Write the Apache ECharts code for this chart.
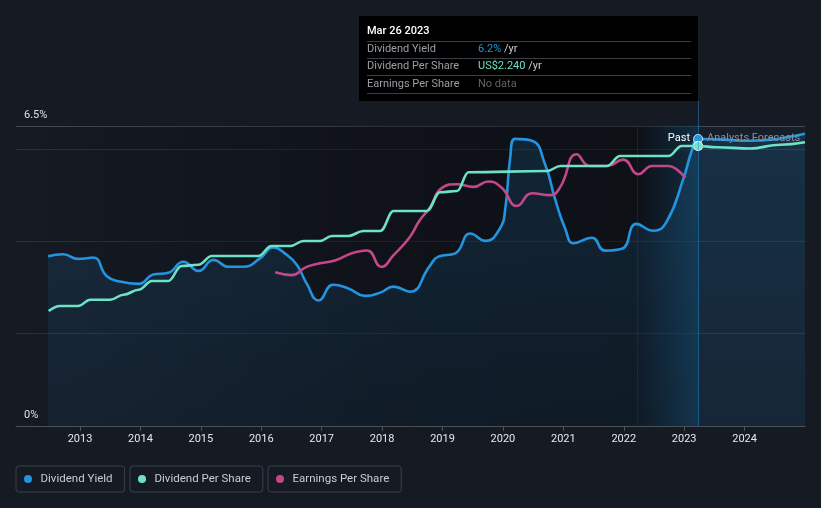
<!DOCTYPE html>
<html>
<head>
<meta charset="utf-8">
<script src="https://cdn.jsdelivr.net/npm/echarts@6/dist/echarts.min.js"></script>
<style>
html,body{margin:0;padding:0;background:#151a23;}
#c{width:821px;height:508px;}
</style>
</head>
<body>
<div id="c"></div>
<script>
// ---------- data (years as decimal years) ----------
const yieldDates = [2012.47,2012.72,2012.97,2013.22,2013.44,2013.66,2013.97,2014.21,2014.46,2014.71,2014.96,2015.21,2015.46,2015.70,2015.98,2016.20,2016.39,2016.59,2016.75,2016.95,2017.19,2017.44,2017.72,2017.97,2018.19,2018.46,2018.79,2018.93,2019.21,2019.46,2019.71,2019.95,2020.04,2020.12,2020.20,2020.48,2020.70,2020.86,2021.03,2021.17,2021.47,2021.69,2021.97,2022.21,2022.49,2022.71,2022.99,2023.13,2023.23,2023.54,2024.09,2024.53,2025.00];
const yieldValues = [3.68,3.72,3.62,3.65,3.25,3.13,3.08,3.28,3.32,3.56,3.36,3.60,3.45,3.45,3.63,3.87,3.74,3.49,3.09,2.72,3.06,2.98,2.82,2.89,3.02,2.91,3.47,3.67,3.74,4.17,4.01,4.28,4.72,5.81,6.22,6.18,5.66,4.93,4.28,3.96,4.08,3.80,3.84,4.38,4.23,4.43,5.37,5.98,6.22,6.21,6.18,6.22,6.33];

const dpsDates = [2012.48,2012.67,2012.97,2013.17,2013.50,2013.72,2013.97,2014.19,2014.46,2014.68,2014.96,2015.18,2015.95,2016.17,2016.48,2016.70,2016.97,2017.17,2017.44,2017.69,2017.97,2018.19,2018.74,2018.96,2019.24,2019.43,2020.73,2020.95,2021.72,2021.94,2022.74,2022.96,2023.23,2023.54,2024.09,2024.59,2025.00];
const dpsValues = [0.92,0.96,0.96,1.01,1.01,1.05,1.09,1.16,1.16,1.28,1.29,1.36,1.36,1.44,1.44,1.48,1.48,1.52,1.52,1.56,1.56,1.72,1.72,1.87,1.88,2.03,2.04,2.08,2.08,2.16,2.16,2.24,2.24,2.23,2.22,2.25,2.27];

const epsDates = [2016.23,2016.50,2016.75,2016.97,2017.22,2017.50,2017.75,2017.99,2018.19,2018.46,2018.62,2018.79,2018.99,2019.24,2019.51,2019.76,2019.98,2020.23,2020.48,2020.78,2020.95,2021.22,2021.44,2021.72,2021.99,2022.24,2022.47,2022.74,2022.88,2023.02];
const epsValues = [1.69,1.66,1.75,1.79,1.82,1.90,1.93,1.75,1.88,2.08,2.26,2.40,2.62,2.66,2.63,2.69,2.62,2.42,2.56,2.54,2.63,2.99,2.86,2.86,2.93,2.77,2.86,2.86,2.82,2.73];

const xTickYears = [2013,2014,2015,2016,2017,2018,2019,2020,2021,2022,2023,2024];
const xRange = [2011.94, 2025.0];
const yLabelValues = [0, 6.5];
const yTickLabels = ['0%', '6.5%'];
const bandStart = 2022.22;
const pastEnd = 2023.23;

const seriesNames = ['Dividend Yield', 'Dividend Per Share', 'Earnings Per Share'];
const tooltipTitle = 'Mar 26 2023';
const tooltipRows = [
  {label: 'Dividend Yield', value: '6.2%', unit: ' /yr'},
  {label: 'Dividend Per Share', value: 'US$2.240', unit: ' /yr'},
  {label: 'Earnings Per Share', value: 'No data', unit: ''}
];
const pastLabel = 'Past';
const forecastLabel = 'Analysts Forecasts';

// ---------- styles ----------
const BLUE = '#2394df', TEAL = '#6ee2c6', PINK = '#c4478b';
const FONT = 'Roboto';
const zip = (a, b) => a.map((d, i) => [d, b[i]]);
const pi = yieldDates.indexOf(pastEnd);
const di = dpsDates.indexOf(pastEnd);

const chart = echarts.init(document.getElementById('c'), null, {renderer: 'canvas'});

const lineCommon = {
  type: 'line', showSymbol: false, symbol: 'none', smooth: 0.5,
  emphasis: {disabled: true}, silent: true, clip: true
};

chart.setOption({
  backgroundColor: '#151a23',
  animation: false,
  grid: {left: 16, right: 16, top: 126, bottom: 82, containLabel: false},
  xAxis: {
    type: 'value', min: xRange[0], max: xRange[1],
    axisLine: {show: true, lineStyle: {color: '#4b5159', width: 1}},
    axisTick: {show: true, customValues: xTickYears, length: 5, lineStyle: {color: '#4b5159'}},
    axisLabel: {customValues: xTickYears, formatter: v => String(v), color: '#e6e8eb', fontSize: 11, fontFamily: FONT, margin: 8},
    splitLine: {show: false}
  },
  yAxis: [
    {
      type: 'value', min: 0, max: 6.5, interval: 2, position: 'left',
      axisLine: {show: false}, axisTick: {show: false},
      axisLabel: {
        inside: true, margin: 8, verticalAlign: 'bottom', padding: [0, 0, 5, 0],
        color: '#dfe2e6', fontSize: 11, fontFamily: FONT,
        formatter: v => { const k = yLabelValues.indexOf(v); return k >= 0 ? yTickLabels[k] : ''; }
      },
      splitLine: {show: true, lineStyle: {color: ['#262b33', '#2a2f37', '#2a2f37', '#2c3139', '#434950'], width: 1}}
    },
    {type: 'value', min: 0, max: 2.4, show: false},
    {type: 'value', min: 0, max: 3.3, show: false}
  ],
  legend: seriesNames.map((name, i) => ({
    data: [{name: name, icon: 'circle'}],
    left: [16, 130, 268][i], top: 466,
    itemWidth: 15, itemHeight: 8, itemGap: 0,
    padding: [7, 12, 7, 8],
    borderColor: '#3b414a', borderWidth: 1, borderRadius: 3,
    selectedMode: false,
    textStyle: {color: '#c9cdd2', fontSize: 11.5, fontFamily: FONT}
  })),
  series: [
    Object.assign({}, lineCommon, {
      name: seriesNames[0], yAxisIndex: 0, z: 4,
      data: zip(yieldDates, yieldValues),
      itemStyle: {color: BLUE},
      lineStyle: {color: BLUE, width: 2.6},
      areaStyle: {
        color: new echarts.graphic.LinearGradient(0, 0, 0, 1, [
          {offset: 0, color: 'rgba(35,148,223,0.22)'},
          {offset: 1, color: 'rgba(35,148,223,0.10)'}
        ])
      },
      markArea: {
        silent: true,
        data: [
          [{xAxis: xRange[0], itemStyle: {color: new echarts.graphic.LinearGradient(0, 0, 1, 0, [
              {offset: 0, color: 'rgba(0,0,0,0)'},
              {offset: 0.55, color: 'rgba(0,0,0,0.30)'},
              {offset: 1, color: 'rgba(0,0,0,0.38)'}
            ])}}, {xAxis: pastEnd}],
          [{xAxis: bandStart, itemStyle: {color: new echarts.graphic.LinearGradient(0, 0, 1, 0, [
              {offset: 0, color: 'rgba(35,148,223,0.0)'},
              {offset: 1, color: 'rgba(35,148,223,0.22)'}
            ])}}, {xAxis: pastEnd}],
          [{xAxis: pastEnd, itemStyle: {color: 'rgba(35,148,223,0.035)'}}, {xAxis: xRange[1]}]
        ]
      },
      markPoint: {
        silent: true, symbol: 'circle', symbolSize: 9,
        label: {show: false},
        itemStyle: {color: BLUE, borderColor: '#cfe6f7', borderWidth: 1},
        data: [{coord: [yieldDates[pi], yieldValues[pi]]}]
      }
    }),
    Object.assign({}, lineCommon, {
      name: seriesNames[1], yAxisIndex: 1, z: 5, smooth: 0.4, smoothMonotone: 'x',
      data: zip(dpsDates, dpsValues),
      itemStyle: {color: TEAL},
      lineStyle: {color: TEAL, width: 2.6},
      markPoint: {
        silent: true, symbol: 'circle', symbolSize: 9,
        label: {show: false},
        itemStyle: {color: TEAL, borderColor: '#ffffff', borderWidth: 1.2},
        data: [{coord: [dpsDates[di], dpsValues[di]]}]
      }
    }),
    Object.assign({}, lineCommon, {
      name: seriesNames[2], yAxisIndex: 2, z: 4,
      data: zip(epsDates, epsValues),
      itemStyle: {color: PINK},
      lineStyle: {color: PINK, width: 2.6}
    })
  ]
});

// ---------- overlay: tooltip box, divider lines, Past / Forecast labels ----------
const px = Math.round(chart.convertToPixel({xAxisIndex: 0}, pastEnd));
const bx = Math.round(chart.convertToPixel({xAxisIndex: 0}, bandStart));
const yTop = chart.convertToPixel({yAxisIndex: 0}, 6.5);
const yBot = chart.convertToPixel({yAxisIndex: 0}, 0);

const tipW = 339, tipH = 85, tipX = px - tipW, tipY = 16;
const gfx = [
  {type: 'line', silent: true, z: 1, shape: {x1: bx + 0.5, y1: yTop, x2: bx + 0.5, y2: yBot}, style: {stroke: 'rgba(35,148,223,0.14)', lineWidth: 1}},
  {type: 'line', silent: true, z: 50, shape: {x1: px + 0.5, y1: tipY + tipH, x2: px + 0.5, y2: yBot}, style: {stroke: 'rgba(35,148,223,0.45)', lineWidth: 1}},
  {type: 'rect', silent: true, z: 60, shape: {x: tipX, y: tipY, width: tipW, height: tipH}, style: {fill: '#000000'}},
  {type: 'text', silent: true, z: 61, x: tipX + 8, y: tipY + 15, style: {text: tooltipTitle, fill: '#ffffff', font: '500 11px ' + FONT, verticalAlign: 'middle'}},
  {type: 'text', silent: true, z: 61, x: px - 8, y: yTop + 12, style: {text: pastLabel, fill: '#ffffff', font: '11px ' + FONT, align: 'right', verticalAlign: 'middle'}},
  {type: 'text', silent: true, z: 61, x: px + 9, y: yTop + 12, style: {text: forecastLabel, fill: '#8b9098', font: '11px ' + FONT, align: 'left', verticalAlign: 'middle'}}
];
const sepYs = [41.5, 58.5, 75.5, 93.5];
sepYs.forEach(y => gfx.push({type: 'line', silent: true, z: 61, shape: {x1: tipX + 8, y1: y, x2: px - 7, y2: y}, style: {stroke: '#3a3f46', lineWidth: 1}}));
const rowYs = [49.5, 66.5, 84];
const valueColors = [BLUE, TEAL, '#5f646b'];
tooltipRows.forEach((r, i) => {
  gfx.push({type: 'text', silent: true, z: 61, x: tipX + 8, y: rowYs[i], style: {text: r.label, fill: '#9a9fa6', font: '11px ' + FONT, verticalAlign: 'middle'}});
  gfx.push({type: 'text', silent: true, z: 61, x: tipX + 119, y: rowYs[i], style: {
    text: '{v|' + r.value + '}' + (r.unit ? '{u|' + r.unit + '}' : ''),
    verticalAlign: 'middle',
    rich: {
      v: {fill: valueColors[i], font: '11px ' + FONT},
      u: {fill: '#c9cdd2', font: '11px ' + FONT}
    }
  }});
});
chart.setOption({graphic: gfx});
</script>
</body>
</html>
